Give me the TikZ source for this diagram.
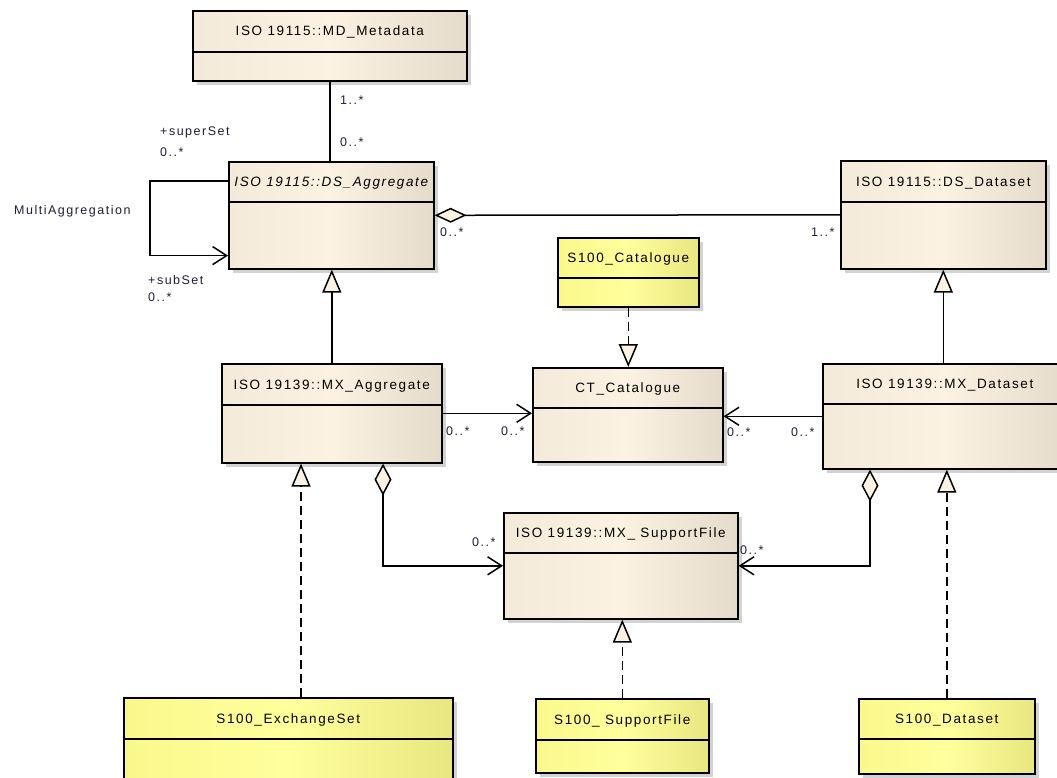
\documentclass[tikz,border=0pt]{standalone}
\usepackage{fontspec}
\newfontfamily\umlfont[LetterSpace=12]{Liberation Sans}
\usetikzlibrary{arrows.meta,calc,shadows}
\definecolor{beigeL}{RGB}{243,234,218}
\definecolor{beigeM}{RGB}{251,242,226}
\definecolor{beigeR}{RGB}{228,219,202}
\definecolor{yelL}{RGB}{250,248,140}
\definecolor{yelM}{RGB}{255,255,156}
\definecolor{yelR}{RGB}{232,230,128}
\definecolor{lblcol}{RGB}{30,30,55}
\newcommand{\umlclass}[8]{%
  \node[#7, minimum width=#4pt, minimum height=#5pt] (#1) at (#2,#3) {};
  \draw[boxline] ($(#1.north west)+(0,#6)$) -- ($(#1.north east)+(0,#6)$);
  \node[cname] (#1-t) at ($(#1.north)+(0,#6/2)$) {#8};
}
\begin{document}
\begin{tikzpicture}[x=1pt,y=-1pt,
  cls/.style={draw=black, line width=1.6pt, rectangle, anchor=north west, inner sep=0pt,
    drop shadow={shadow xshift=4pt, shadow yshift=-4pt, fill=black!35, opacity=0.5}},
  beige/.style={cls, left color=beigeL, right color=beigeR, middle color=beigeM},
  yel/.style={cls, left color=yelL, right color=yelR, middle color=yelM},
  boxline/.style={line width=1.6pt},
  cname/.style={font=\umlfont\fontsize{13.5}{16}\selectfont, inner sep=0pt, text height=10pt, text depth=0pt},
  lbl/.style={font=\umlfont\fontsize{12.5}{15}\selectfont, inner sep=0pt, anchor=west, text height=9pt, text depth=0pt, text=lblcol},
  conn/.style={line width=1.5pt},
  gen/.style={conn, -{Triangle[length=23pt,width=19pt,fill=beigeM]}},
  real/.style={gen, dash pattern=on 9pt off 5pt},
  nav/.style={conn, -{Straight Barb[length=14pt,width=18pt]}},
  agg/.style={conn, {Diamond[length=32pt,width=15pt,fill=beigeM]}-},
  aggnav/.style={conn, {Diamond[length=32pt,width=17pt,fill=beigeM]}-{Straight Barb[length=14pt,width=18pt]}}
]
\useasboundingbox (0,0) rectangle (1057,778);

% classes
\umlclass{md}{192}{10}{274}{70}{42}{beige}{ISO 19115::MD\_Metadata}
\umlclass{dsagg}{228}{161}{205}{107}{41}{beige}{\itshape ISO 19115::DS\_Aggregate}
\umlclass{dsds}{840}{160}{205}{108}{42}{beige}{ISO 19115::DS\_Dataset}
\umlclass{s100cat}{557}{237}{141}{69}{41}{yel}{S100\_Catalogue}
\umlclass{mxagg}{221}{363}{220}{99}{42}{beige}{ISO 19139::MX\_Aggregate}
\umlclass{ct}{532}{367}{190}{94}{41}{beige}{CT\_Catalogue}
\umlclass{mxds}{822}{363}{244}{105}{41}{beige}{ISO 19139::MX\_Dataset}
\umlclass{mxsf}{503}{512}{234}{106}{41}{beige}{ISO 19139::MX\_ SupportFile}
\umlclass{s100es}{123}{697}{329}{84}{42}{yel}{S100\_ExchangeSet}
\umlclass{s100sf}{535}{698}{173}{74}{42}{yel}{S100\_ SupportFile}
\umlclass{s100ds}{858}{698}{176}{75}{41}{yel}{S100\_Dataset}

% connectors
\draw[conn] (md.south) -- (md.south |- dsagg.north);
\coordinate (sl1) at ($(dsagg.north west)+(0,20)$);
\coordinate (sl2) at ($(dsagg.south west)+(0,-14)$);
\draw[nav] (sl1) -- ++(-78,0) |- (sl2);
\draw[agg] (dsagg.east) -- (dsds.west);
\draw[gen] (mxagg.north) -- (mxagg.north |- dsagg.south);
\draw[gen] (dsds.south |- mxds.north) -- (dsds.south);
\draw[real] (s100cat.south) -- (s100cat.south |- ct.north);
\draw[nav] (mxagg.east) -- (mxagg.east -| ct.west);
\draw[nav] (mxds.west) -- (mxds.west -| ct.east);
\coordinate (d1) at ($(mxagg.south west)+(162,0)$);
\draw[aggnav] (d1) |- (mxsf.west);
\coordinate (d2) at ($(mxds.south west)+(48,0)$);
\draw[aggnav] (d2) |- (mxsf.east);
\coordinate (r1) at ($(s100es.north west)+(178,0)$);
\draw[real] (r1) -- (r1 |- mxagg.south);
\draw[real] (s100sf.north) -- (s100sf.north |- mxsf.south);
\draw[real] (s100ds.north) -- (s100ds.north |- mxds.south);

% labels
\node[lbl] (l1) at (340,100) {1..*};
\node[lbl] (l2) at (340,142) {0..*};
\node[lbl] (l3) at (160,131) {+superSet};
\node[lbl] (l4) at (160,152) {0..*};
\node[lbl] (l5) at (14,210) {MultiAggregation};
\node[lbl] (l6) at (148,280) {+subSet};
\node[lbl] (l7) at (148,297) {0..*};
\node[lbl] (l8) at (440,232) {0..*};
\node[lbl] (l9) at (811,232) {1..*};
\node[lbl] (l10) at (446,431) {0..*};
\node[lbl] (l11) at (501,431) {0..*};
\node[lbl] (l12) at (727,432) {0..*};
\node[lbl] (l13) at (791,432) {0..*};
\node[lbl] (l14) at (472,542) {0..*};
\node[lbl] (l15) at (740,550) {0..*};
\end{tikzpicture}
\end{document}
